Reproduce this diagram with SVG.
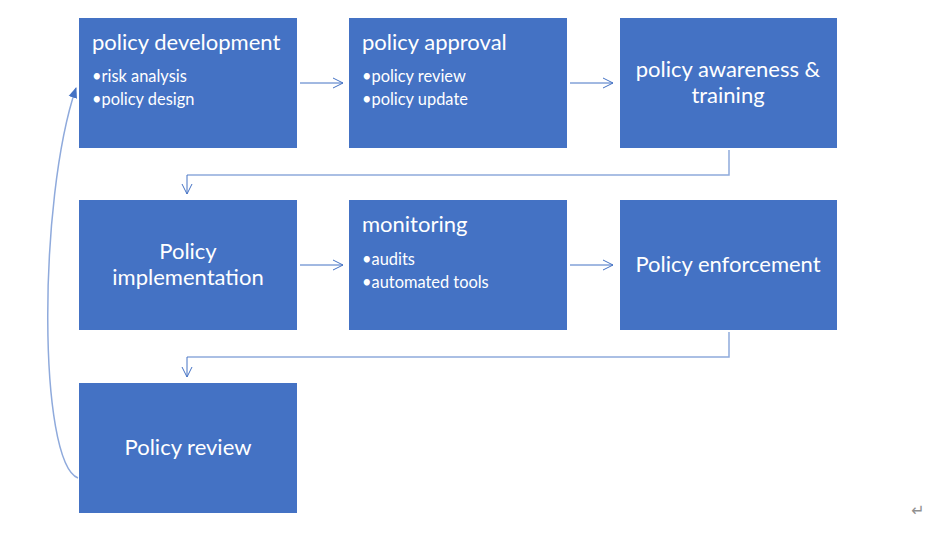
<svg xmlns="http://www.w3.org/2000/svg" width="930" height="536" viewBox="0 0 930 536">
<style>
.box{fill:#4472C4}
.t{font-family:Lato,"Open Sans","Liberation Sans",sans-serif;fill:#fff}
.h{font-size:22px}
.b{font-size:16.4px}
.c{text-anchor:middle}
.ln{fill:none;stroke:#4472C4;stroke-width:1}
.lt{fill:none;stroke:#8FAADC;stroke-width:1.5}
</style>
<defs>
<marker id="open" viewBox="0 0 12 12" refX="11" refY="6" markerWidth="12" markerHeight="12" markerUnits="userSpaceOnUse" orient="auto">
<path d="M1,1 L11,6 L1,11" fill="none" stroke="#4472C4" stroke-width="1"/>
</marker>
<marker id="fill" viewBox="0 0 10 10" refX="9" refY="5" markerWidth="11" markerHeight="11" markerUnits="userSpaceOnUse" orient="auto">
<path d="M0,1 L10,5 L0,9 Z" fill="#4472C4"/>
</marker>
</defs>
<g id="connectors">
<line class="ln" x1="300" y1="83" x2="343" y2="83" marker-end="url(#open)"/>
<line class="ln" x1="570" y1="83" x2="613" y2="83" marker-end="url(#open)"/>
<line class="ln" x1="300" y1="265" x2="343" y2="265" marker-end="url(#open)"/>
<line class="ln" x1="570" y1="265" x2="613" y2="265" marker-end="url(#open)"/>
<polyline class="lt" points="729,150 729,175 187,175"/>
<line class="ln" x1="187" y1="175" x2="187" y2="194" marker-end="url(#open)"/>
<polyline class="lt" points="729,332 729,357 187,357"/>
<line class="ln" x1="187" y1="357" x2="187" y2="377" marker-end="url(#open)"/>
<path class="lt" d="M78,478 C38,462 38,200 76,88" stroke-width="2" marker-end="url(#fill)"/>
</g>
<g id="n1">
<rect class="box" x="79" y="18" width="218" height="130"/>
<text class="t h" x="92" y="50">policy development</text>
<text class="t b" x="92" y="82">•risk analysis</text>
<text class="t b" x="92" y="105">•policy design</text>
</g>
<g id="n2">
<rect class="box" x="349" y="18" width="218" height="130"/>
<text class="t h" x="362" y="50">policy approval</text>
<text class="t b" x="362" y="82">•policy review</text>
<text class="t b" x="362" y="105">•policy update</text>
</g>
<g id="n3">
<rect class="box" x="620" y="18" width="217" height="130"/>
<text class="t h c" x="728" y="77">policy awareness &amp;</text>
<text class="t h c" x="728" y="103">training</text>
</g>
<g id="n4">
<rect class="box" x="79" y="200" width="218" height="130"/>
<text class="t h c" x="188" y="259">Policy</text>
<text class="t h c" x="188" y="285">implementation</text>
</g>
<g id="n5">
<rect class="box" x="349" y="200" width="218" height="130"/>
<text class="t h" x="362" y="232">monitoring</text>
<text class="t b" x="362" y="265">•audits</text>
<text class="t b" x="362" y="288">•automated tools</text>
</g>
<g id="n6">
<rect class="box" x="620" y="200" width="217" height="130"/>
<text class="t h c" x="728" y="272">Policy enforcement</text>
</g>
<g id="n7">
<rect class="box" x="79" y="383" width="218" height="130"/>
<text class="t h c" x="188" y="455">Policy review</text>
</g>
<text x="918" y="516" font-family="'DejaVu Sans',sans-serif" font-size="16" fill="#909090" text-anchor="middle">↵</text>
</svg>
